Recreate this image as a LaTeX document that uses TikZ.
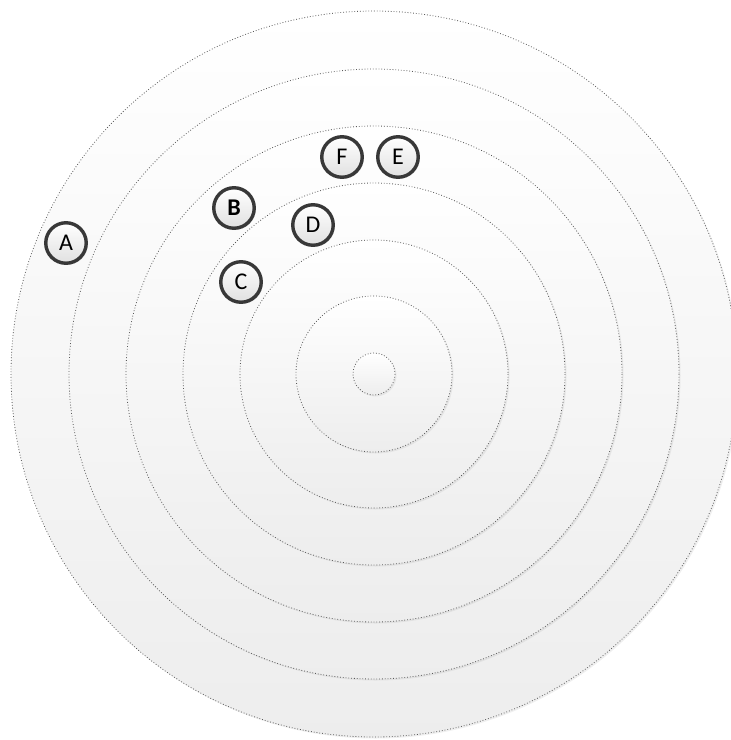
\documentclass[tikz,border=0pt]{standalone}
\usepackage{fontspec}
\setmainfont{Carlito}
\usetikzlibrary{shadows}
\begin{document}
\begin{tikzpicture}[x=1pt,y=-1pt,
  ring/.style={draw=black!65,dotted,line width=0.8pt,top color=white,bottom color=black!7,
    drop shadow={opacity=0.12,shadow xshift=1.5pt,shadow yshift=-1.5pt}},
  tag/.style={circle,draw=black!78,line width=3.4pt,minimum size=40.5pt,inner sep=0pt,
    top color=white,bottom color=black!12,font=\fontsize{24}{26}\selectfont,
    drop shadow={opacity=0.2,shadow xshift=1.5pt,shadow yshift=-1.5pt}}]
\useasboundingbox (0,0) rectangle (731,740);
\fill[white] (0,0) rectangle (731,740);
\begin{scope}
\clip (0,0) rectangle (731,740);
\coordinate (o) at (374,374);
\foreach \r in {363,305,248,191,134,78,21}
  \path[ring] (o) circle[radius=\r];
\end{scope}
\node[tag] (A) at (66,243) {A};
\node[tag] (B) at (234,208) {\bfseries B};
\node[tag] (C) at (241,282) {C};
\node[tag] (D) at (313,225) {D};
\node[tag] (F) at (342,157) {F};
\node[tag] (E) at (398,157) {E};
\end{tikzpicture}
\end{document}
